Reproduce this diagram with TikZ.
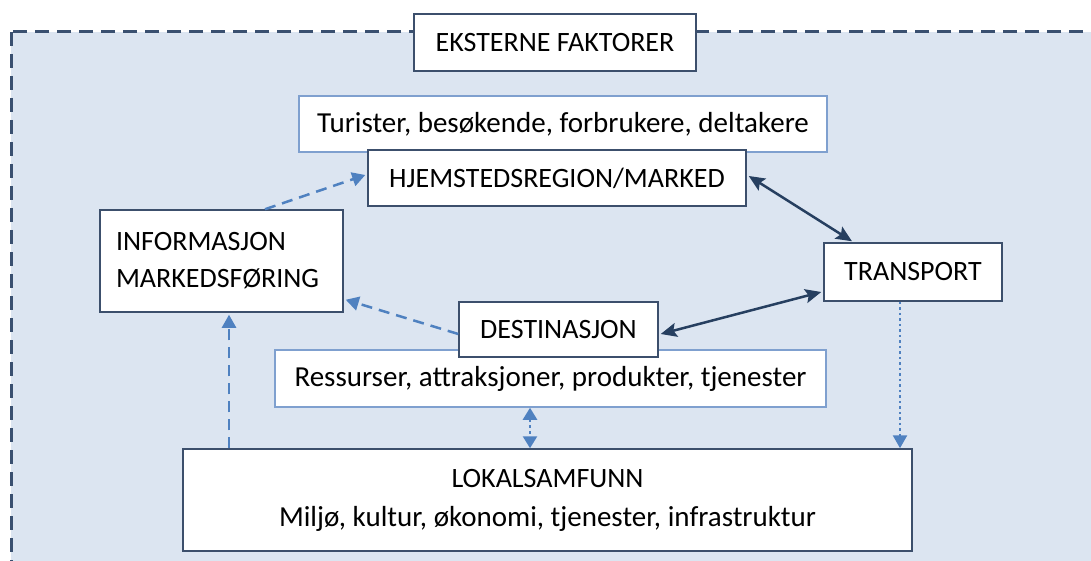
\documentclass[tikz,border=0pt]{standalone}
\usepackage{fontspec}
\setmainfont{Carlito}
\usetikzlibrary{arrows.meta}
\definecolor{panel}{HTML}{DCE5F1}
\definecolor{frameline}{HTML}{3A5070}
\definecolor{darkline}{HTML}{3C4F6C}
\definecolor{lightline}{HTML}{7FA0CF}
\definecolor{flowblue}{HTML}{4F81C0}
\definecolor{darkarrow}{HTML}{263F60}
\newcommand{\lowtext}{\fontsize{29}{36}\selectfont}
\tikzset{
  box/.style={draw=darkline, line width=1.5pt, fill=white, inner sep=0pt,
    font=\fontsize{28}{37}\selectfont},
  lightbox/.style={box, draw=lightline},
  infoflow/.style={flowblue, line width=2.5pt, dash pattern=on 11pt off 7pt,
    -{Triangle[length=13pt,width=14pt]}},
  twoway/.style={darkarrow, line width=2.5pt,
    {Stealth[length=16pt,width=14pt,inset=3pt]}-{Stealth[length=16pt,width=14pt,inset=3pt]}},
}
\begin{document}
\begin{tikzpicture}[x=1pt,y=-1pt]
\useasboundingbox (0,0) rectangle (1091,561);
\clip (0,0) rectangle (1091,561);
% outer frame for the external factors
\draw[frameline, fill=panel, line width=3pt, dash pattern=on 14pt off 8pt]
  (11,32) rectangle (1110,580);
\node[box, minimum width=282pt, minimum height=57pt] (ext) at (555,42.5) {EKSTERNE FAKTORER};
% home region
\node[lightbox, minimum width=528pt, minimum height=56pt] (tur) at (563,124) {\lowtext Turister, besøkende, forbrukere, deltakere};
\node[box, minimum width=378pt, minimum height=56pt] (hjem) at (557,178) {HJEMSTEDSREGION/MARKED};
% information and transport
\node[box, text width=211pt, inner xsep=16pt, align=left, minimum height=102pt] (info) at (221.5,261)
  {INFORMASJON\\MARKEDSFØRING};
\node[box, minimum width=178pt, minimum height=58pt] (trans) at (913,272) {TRANSPORT};
% destination
\node[lightbox, minimum width=551pt, minimum height=57pt] (res) at (550.5,378.5) {\lowtext Ressurser, attraksjoner, produkter, tjenester};
\node[box, minimum width=199pt, minimum height=55pt] (dest) at (558.5,329.5) {DESTINASJON};
% local community
\node[box, align=center, minimum width=729pt, minimum height=102pt] (lok) at (547.5,500)
  {LOKALSAMFUNN\\[2pt]{\lowtext Miljø, kultur, økonomi, tjenester, infrastruktur}};
% connectors
\draw[infoflow] ([xshift=43.5pt]info.north) -- ([yshift=3pt,xshift=-2pt]hjem.west);
\draw[infoflow] ([yshift=-4.5pt]dest.west) -- ([yshift=13pt,xshift=2pt]info.south east);
\draw[infoflow] ([xshift=7.5pt]info.south |- lok.north) -- ([xshift=7.5pt,yshift=-2pt]info.south);
\draw[twoway] ([xshift=2pt,yshift=2pt]hjem.east) -- ([xshift=-61pt,yshift=1pt]trans.north);
\draw[twoway] ([xshift=2pt,yshift=-4.5pt]dest.east) -- ([xshift=-2pt,yshift=-20pt]trans.west);
\draw[flowblue, line width=2.5pt, dash pattern=on 2.5pt off 3pt, -{Triangle[length=13pt,width=14pt]}]
  ([xshift=-13pt]trans.south) -- ([xshift=-13pt]trans.south |- lok.north);
\draw[flowblue, line width=2.5pt, dash pattern=on 3pt off 3pt,
  {Triangle[length=12pt,width=14pt]}-{Triangle[length=12pt,width=14pt]}]
  ([xshift=-20.5pt]res.south) -- ([xshift=-20.5pt]res.south |- lok.north);
\end{tikzpicture}
\end{document}
